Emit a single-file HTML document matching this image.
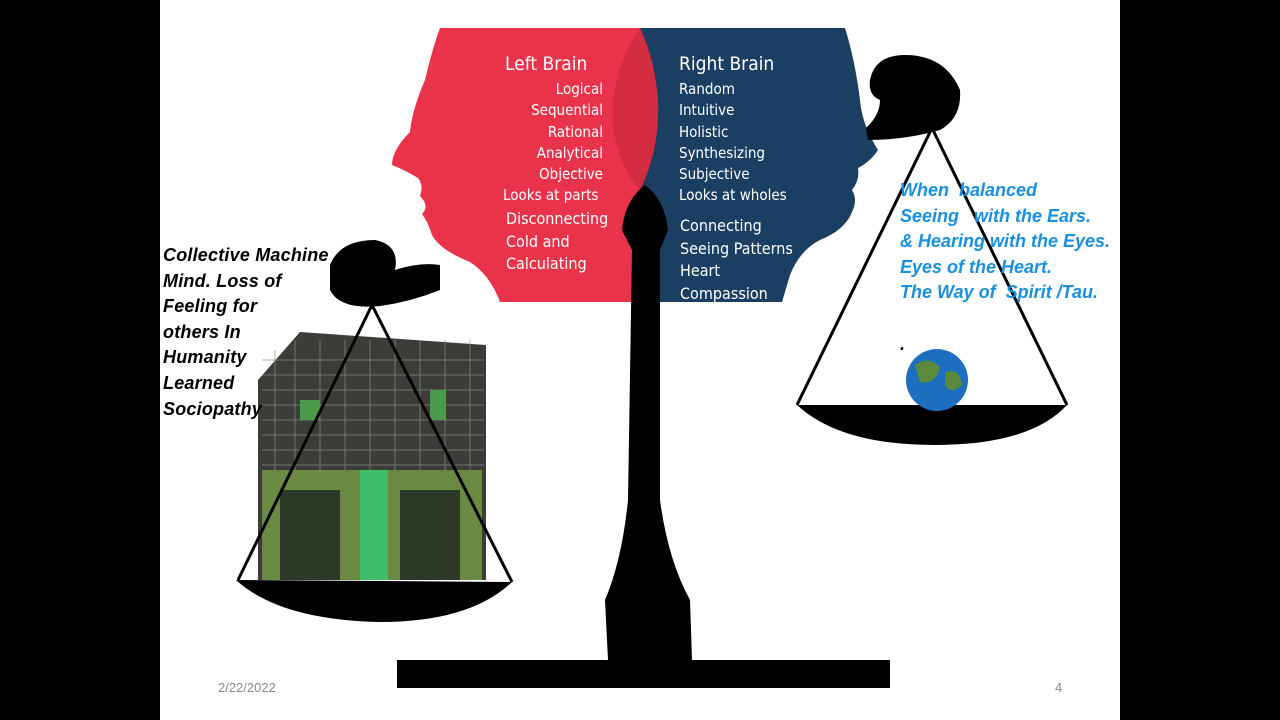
<!DOCTYPE html>
<html><head><meta charset="utf-8"><style>
body{margin:0;width:1280px;height:720px;background:#000;overflow:hidden;font-family:"Liberation Sans",sans-serif}
.s{position:absolute;left:160px;top:0;width:960px;height:720px;background:#fff}
svg{position:absolute;left:0;top:0}
.t{position:absolute;white-space:nowrap}
.lb{font-family:"DejaVu Sans Condensed","DejaVu Sans",sans-serif;color:#fff;font-size:15px;line-height:21.3px}
.bi{font-weight:bold;font-style:italic;font-size:18px;line-height:25.6px}
</style></head><body>
<div class="s"></div>
<svg width="1280" height="720">
<path d="M440 28 L640 28 L640 302 L500 302 Q490 275 470 262 Q440 250 432 235 Q428 222 422 214 Q430 206 420 196 Q424 186 418 178 Q405 170 392 165 Q392 150 410 132 Q412 110 425 80 Q432 50 440 28Z" fill="#e8334a"/>
<path d="M640 28 L845 28 Q855 60 860 100 Q862 125 878 150 Q870 162 858 168 Q860 180 852 190 Q858 200 852 212 Q845 230 820 240 Q800 250 790 275 L782 302 L640 302Z" fill="#1b3f63"/>
<path d="M640 28 Q605 80 615 140 Q625 175 640 190 Q660 150 658 100 Q655 60 640 28Z" fill="#d42c40"/>
<path d="M645 185 Q625 200 622 230 L632 250 L628 500 Q622 560 605 600 L608 660 L397 660 L397 688 L890 688 L890 660 L692 660 L690 600 Q668 560 660 500 L660 250 L668 230 Q665 200 645 185Z" fill="#000"/>
<path d="M330 265 Q340 240 375 240 Q400 245 395 270 Q420 262 440 265 L440 290 Q410 302 380 306 Q340 310 330 290Z" fill="#000"/>
</svg>
<svg width="1280" height="720">
<path d="M258 380 L300 332 L486 345 L486 580 L258 580Z" fill="#3a3d38"/>
<g stroke="#8a8a85" stroke-width="1" opacity="0.7">
<path d="M262 360 H484 M262 375 H484 M262 390 H484 M262 405 H484 M262 420 H484 M262 435 H484 M262 450 H484 M262 465 H484"/>
<path d="M275 350 V470 M295 340 V470 M320 340 V470 M345 340 V470 M370 340 V470 M395 340 V470 M420 340 V470 M445 340 V470 M470 340 V470"/>
</g>
<rect x="300" y="400" width="20" height="20" fill="#4a9a4a"/>
<rect x="430" y="390" width="16" height="30" fill="#4a9a4a"/>
<rect x="262" y="470" width="220" height="110" fill="#6a8a44"/>
<rect x="360" y="470" width="28" height="110" fill="#3fbf6a"/>
<rect x="280" y="490" width="60" height="90" fill="#2e3a28"/>
<rect x="400" y="490" width="60" height="90" fill="#2e3a28"/>
<path d="M372 305 L238 580 M372 305 L512 582" stroke="#000" stroke-width="3"/>
<path d="M236 580 L512 582 Q470 622 380 622 Q280 620 236 580Z" fill="#000"/>
<path d="M870 80 Q875 55 905 55 Q945 55 960 90 Q962 118 940 130 Q905 140 868 140 L866 128 Q880 115 880 100 Q868 95 870 80Z" fill="#000"/>
<path d="M932 128 L797 405 M932 128 L1067 405" stroke="#000" stroke-width="3"/>
<path d="M797 405 L1067 405 Q1030 445 935 445 Q840 445 797 405Z" fill="#000"/>
<circle cx="937" cy="380" r="31" fill="#1f6fc0"/>
<path d="M915 365 Q930 355 940 368 Q935 385 920 382Z M945 372 Q960 368 962 385 Q950 395 945 385Z" fill="#5a8a3a"/>
</svg>
<div class="t lb" style="left:505px;top:54px;font-size:19px">Left Brain</div>
<div class="t lb" style="right:677px;top:79px;text-align:right">Logical<br>Sequential<br>Rational<br>Analytical<br>Objective</div>
<div class="t lb" style="left:503px;top:185px">Looks at parts</div>
<div class="t lb" style="left:506px;top:208px;font-size:16px;line-height:22.5px">Disconnecting<br>Cold and<br>Calculating</div>
<div class="t lb" style="left:679px;top:54px;font-size:19px">Right Brain</div>
<div class="t lb" style="left:679px;top:79px">Random<br>Intuitive<br>Holistic<br>Synthesizing<br>Subjective<br>Looks at wholes</div>
<div class="t lb" style="left:680px;top:215px;font-size:16px;line-height:22.7px">Connecting<br>Seeing Patterns<br>Heart<br>Compassion</div>
<div class="t bi" style="left:163px;top:243px;color:#000;letter-spacing:0.2px">Collective Machine<br>Mind. Loss of<br>Feeling for<br>others In<br>Humanity<br>Learned<br>Sociopathy</div>
<div class="t bi" style="left:900px;top:178px;color:#1a8fe0;font-size:18px">When &nbsp;balanced<br>Seeing &nbsp;&nbsp;with the Ears.<br>&amp; Hearing with the Eyes.<br>Eyes of the Heart.<br>The Way of &nbsp;Spirit /Tau.<br><br><span style="color:#000">.</span></div>
<div class="t" style="left:218px;top:680px;font-size:13px;color:#8a8a8a">2/22/2022</div>
<div class="t" style="left:1055px;top:680px;font-size:13px;color:#8a8a8a">4</div>
</body></html>
